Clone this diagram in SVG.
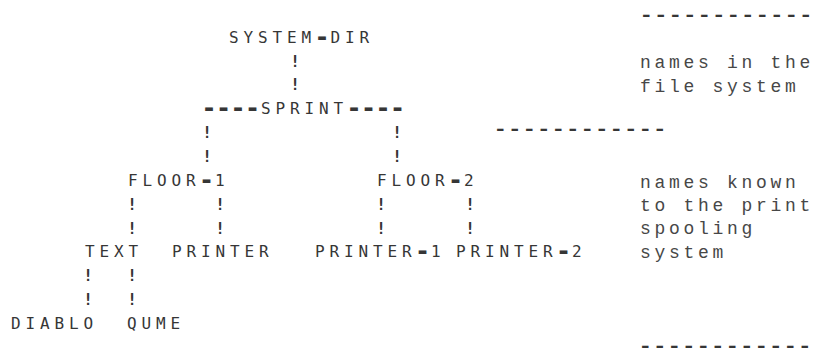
<svg xmlns="http://www.w3.org/2000/svg" width="819" height="361" viewBox="0 0 819 361">
<style>
.c{font-family:"DejaVu Sans Mono","Liberation Mono",monospace;font-size:16px;letter-spacing:4.87px;fill:#363636}
.h{font-size:25px;letter-spacing:-0.55px;font-weight:bold}
.b{font-family:"DejaVu Sans Mono","Liberation Mono",monospace;font-size:16px;fill:#363636;text-anchor:middle;font-weight:bold}
.l{font-family:"Liberation Mono","DejaVu Sans Mono",monospace;font-size:18px;letter-spacing:3.7px;fill:#474747}
.d{font-family:"DejaVu Sans Mono","Liberation Mono",monospace;font-size:16px;letter-spacing:1.52px;font-weight:bold;fill:#363636}
</style>
<rect width="819" height="361" fill="#ffffff"/>
<g id="connectors">
<text class="b" x="295" y="67">!</text>
<text class="b" x="295" y="90">!</text>
<text class="b" x="207" y="138">!</text>
<text class="b" x="207" y="162">!</text>
<text class="b" x="397" y="138">!</text>
<text class="b" x="397" y="162">!</text>
<text class="b" x="132" y="210">!</text>
<text class="b" x="132" y="234">!</text>
<text class="b" x="220" y="210">!</text>
<text class="b" x="220" y="234">!</text>
<text class="b" x="381" y="210">!</text>
<text class="b" x="381" y="234">!</text>
<text class="b" x="470" y="210">!</text>
<text class="b" x="470" y="234">!</text>
<text class="b" x="88" y="281">!</text>
<text class="b" x="88" y="305">!</text>
<text class="b" x="132" y="281">!</text>
<text class="b" x="132" y="305">!</text>
</g>
<g id="system-dir"><text class="c" x="229" y="43">SYSTEM<tspan class="h" dx="-1.5" dy="1.5">-</tspan><tspan dx="1.5" dy="-1.5">DIR</tspan></text></g>
<g id="sprint"><text class="c" x="203" y="114"><tspan class="h" dx="-1.5" dy="1.5">----</tspan><tspan dx="1.5" dy="-1.5">SPRINT</tspan><tspan class="h" dx="-1.5" dy="1.5">----</tspan></text></g>
<g id="floor-1"><text class="c" x="128" y="186">FLOOR<tspan class="h" dx="-1.5" dy="1.5">-</tspan><tspan dx="1.5" dy="-1.5">1</tspan></text></g>
<g id="floor-2"><text class="c" x="377" y="186">FLOOR<tspan class="h" dx="-1.5" dy="1.5">-</tspan><tspan dx="1.5" dy="-1.5">2</tspan></text></g>
<g id="text"><text class="c" x="85" y="257">TEXT</text></g>
<g id="printer"><text class="c" x="172" y="257">PRINTER</text></g>
<g id="printer-1"><text class="c" x="315" y="257">PRINTER<tspan class="h" dx="-1.5" dy="1.5">-</tspan><tspan dx="1.5" dy="-1.5">1</tspan></text></g>
<g id="printer-2"><text class="c" x="456" y="257">PRINTER<tspan class="h" dx="-1.5" dy="1.5">-</tspan><tspan dx="1.5" dy="-1.5">2</tspan></text></g>
<g id="diablo"><text class="c" x="11" y="329">DIABLO</text></g>
<g id="qume"><text class="c" x="127" y="329">QUME</text></g>
<g id="legend">
<text class="d" transform="translate(640,20) scale(1.3,1)">------------</text>
<text class="l" x="640" y="68">names in the</text>
<text class="l" x="640" y="92">file system</text>
<text class="d" transform="translate(494,134) scale(1.3,1)">------------</text>
<text class="l" x="640" y="188">names known</text>
<text class="l" x="640" y="211">to the print</text>
<text class="l" x="640" y="234">spooling</text>
<text class="l" x="640" y="258">system</text>
<text class="d" transform="translate(639,351) scale(1.3,1)">------------</text>
</g>
</svg>
